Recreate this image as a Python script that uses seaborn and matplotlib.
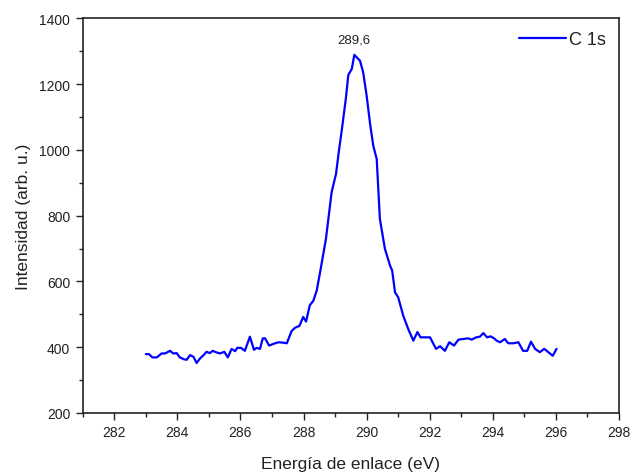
import matplotlib
matplotlib.use("Agg")
import matplotlib.pyplot as plt
import seaborn as sns
import pandas as pd
from matplotlib.ticker import MultipleLocator

energy = [283.00, 283.10, 283.21, 283.35, 283.50, 283.61, 283.77, 283.87, 283.98, 284.08,
          284.22, 284.30, 284.40, 284.51, 284.61, 284.72, 284.82, 284.93, 285.03, 285.12,
          285.25, 285.35, 285.49, 285.60, 285.72, 285.83, 285.90, 286.02, 286.14, 286.30,
          286.43, 286.51, 286.62, 286.71, 286.78, 286.91, 287.04, 287.20, 287.34, 287.47,
          287.62, 287.73, 287.87, 287.99, 288.08, 288.20, 288.31, 288.42, 288.54, 288.71,
          288.89, 289.03, 289.13, 289.21, 289.34, 289.42, 289.53, 289.61, 289.79, 289.89,
          290.00, 290.11, 290.21, 290.32, 290.42, 290.58, 290.74, 290.81, 290.90, 291.00,
          291.16, 291.32, 291.48, 291.61, 291.71, 291.85, 292.01, 292.20, 292.33, 292.48,
          292.62, 292.77, 292.91, 293.06, 293.22, 293.33, 293.47, 293.59, 293.70, 293.82,
          293.93, 294.04, 294.12, 294.23, 294.38, 294.49, 294.65, 294.81, 294.96, 295.09,
          295.21, 295.34, 295.49, 295.63, 295.76, 295.90, 295.97, 296.02]
intensity = [379, 379, 369, 369, 381, 381, 389, 381, 382, 369,
             363, 362, 376, 371, 352, 366, 375, 386, 382, 389,
             384, 381, 386, 369, 395, 388, 398, 398, 389, 432,
             392, 398, 395, 427, 427, 405, 410, 415, 414, 412,
             449, 459, 465, 492, 478, 528, 541, 573, 636, 729,
             871, 927, 1003, 1058, 1155, 1228, 1246, 1289, 1271, 1236,
             1165, 1079, 1013, 972, 790, 699, 649, 633, 567, 552,
             496, 455, 420, 446, 430, 430, 430, 395, 403, 389,
             415, 405, 423, 425, 427, 423, 430, 432, 443, 430,
             433, 427, 420, 415, 425, 412, 412, 415, 389, 389,
             417, 395, 385, 395, 385, 374, 386, 395]
series_name = "C 1s"
peak_label = "289,6"
peak_pos = 289.6
x_ticks = [282, 284, 286, 288, 290, 292, 294, 296, 298]
y_ticks = [200, 400, 600, 800, 1000, 1200, 1400]

df = pd.DataFrame({"E": energy, "I": intensity, "s": series_name})

sns.set_theme(style="ticks")
plt.rcParams["font.family"] = ["Liberation Sans", "DejaVu Sans"]

fig = plt.figure(figsize=(6.33, 4.77), dpi=100)
ax = fig.add_axes([82.7 / 633, 1 - 414 / 477, (619 - 82.7) / 633, (414 - 19.3) / 477])

sns.lineplot(data=df, x="E", y="I", hue="s", palette=["#0000ff"], linewidth=1.6,
             sort=False, ax=ax, estimator=None)

ax.set_xlim(281, 298)
ax.set_ylim(200, 1400)
ax.set_xticks(x_ticks)
ax.set_yticks(y_ticks)
ax.xaxis.set_minor_locator(MultipleLocator(1))
ax.yaxis.set_minor_locator(MultipleLocator(100))
ax.tick_params(which="major", direction="out", length=5, width=1, labelsize=10,
               colors="#222222", pad=4)
ax.tick_params(which="minor", direction="out", length=3, width=1, colors="#222222")
ax.tick_params(axis="both", labelcolor="#222222")
for sp in ax.spines.values():
    sp.set_visible(True)
    sp.set_color("#222222")
    sp.set_linewidth(1.2)

ax.set_xlabel("Energía de enlace (eV)", fontsize=12.5, color="#222222", labelpad=12)
ax.set_ylabel("Intensidad (arb. u.)", fontsize=12.5, color="#222222", labelpad=6)

ax.text(peak_pos, 1337, peak_label, ha="center", va="center", fontsize=9.5, color="#222222")

leg = ax.legend(loc="upper right", frameon=False, fontsize=13, handlelength=2.6,
                handletextpad=0.2, borderaxespad=0.3)
for t in leg.get_texts():
    t.set_color("#222222")

fig.savefig("out.png", dpi=100)
